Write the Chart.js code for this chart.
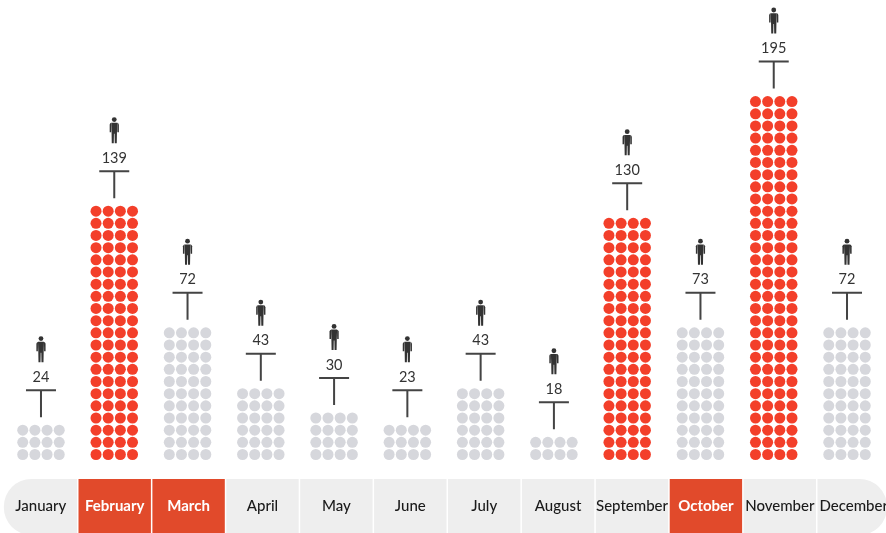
<!DOCTYPE html>
<html><head><meta charset="utf-8">
<style>html,body{margin:0;padding:0;background:#fff;overflow:hidden}canvas{display:block}</style>
<script src="https://cdn.jsdelivr.net/npm/chart.js@4/dist/chart.umd.min.js"></script>
</head><body><canvas id="c" width="886" height="533"></canvas>
<script>
const months = ['January','February','March','April','May','June','July','August','September','October','November','December'];
const totals = [24,139,72,43,30,23,43,18,130,73,195,72];
const dotRows = [3,21,11,6,4,3,6,2,20,11,30,11];
const redColumns = ['February','September','November'];
const redCells = ['February','March','October'];

const COLS = 4, COL_STEP = 0.166;
const points = [], colors = [];
months.forEach((m, i) => {
  for (let r = 0; r < dotRows[i]; r++) for (let c = 0; c < COLS; c++) {
    points.push({x: i + (c - (COLS - 1) / 2) * COL_STEP, y: r});
    colors.push(redColumns.includes(m) ? '#F33F2A' : '#D6D7DC');
  }
});

function person(ctx, cx, top) {
  ctx.save();
  ctx.translate(cx, top);
  ctx.fillStyle = '#333';
  ctx.beginPath(); ctx.arc(0, 2.4, 2.4, 0, Math.PI * 2); ctx.fill();
  ctx.beginPath();
  ctx.moveTo(-3, 5.6); ctx.lineTo(3, 5.6); ctx.lineTo(2.7, 15);
  ctx.lineTo(2.5, 26); ctx.lineTo(0.5, 26); ctx.lineTo(0.3, 16.5);
  ctx.lineTo(-0.3, 16.5); ctx.lineTo(-0.5, 26); ctx.lineTo(-2.5, 26);
  ctx.lineTo(-2.7, 15);
  ctx.closePath(); ctx.fill();
  [-1, 1].forEach(s => {
    ctx.beginPath();
    ctx.moveTo(s * 3, 5.7); ctx.lineTo(s * 4, 6.2); ctx.lineTo(s * 4.6, 7.5);
    ctx.lineTo(s * 4.6, 15); ctx.lineTo(s * 3.1, 15);
    ctx.closePath(); ctx.fill();
  });
  ctx.restore();
}

const strip = {
  id: 'strip',
  beforeDraw(chart) {
    const {ctx, scales: {xCells}} = chart;
    const top = 479, h = 56, rad = 27.5;
    ctx.save();
    months.forEach((m, i) => {
      const l = xCells.getPixelForValue(i - 0.5) + (i ? 0.75 : 0);
      const r = i < 11 ? xCells.getPixelForValue(i + 0.5) - 0.75 : 887;
      ctx.fillStyle = redCells.includes(m) ? '#E14A2B' : '#EEEEEE';
      ctx.beginPath();
      if (i === 0) ctx.roundRect(l, top, r - l, h, [rad, 0, 0, rad]);
      else if (i === 11) ctx.roundRect(l, top, r - l, h, [0, rad, rad, 0]);
      else ctx.rect(l, top, r - l, h);
      ctx.fill();
    });
    ctx.restore();
  }
};

const markers = {
  id: 'markers',
  afterDatasetsDraw(chart) {
    const {ctx, scales: {x, y}} = chart;
    ctx.save();
    months.forEach((m, i) => {
      const cx = x.getPixelForValue(i);
      const t = y.getPixelForValue(dotRows[i] - 1);
      ctx.strokeStyle = '#444';
      ctx.lineWidth = 2;
      ctx.beginPath();
      ctx.moveTo(cx - 15, t - 40); ctx.lineTo(cx + 15, t - 40);
      ctx.moveTo(cx, t - 40); ctx.lineTo(cx, t - 13);
      ctx.stroke();
      ctx.fillStyle = '#333';
      ctx.font = '14.5px Lato';
      ctx.textAlign = 'center';
      ctx.textBaseline = 'middle';
      ctx.fillText(String(totals[i]), cx, t - 53);
      person(ctx, cx, t - 94);
    });
    ctx.restore();
  }
};

const setTicks = s => { s.ticks = months.map((_, i) => ({value: i})); };

new Chart(document.getElementById('c'), {
  type: 'scatter',
  data: {datasets: [{data: points, backgroundColor: colors, borderWidth: 0, pointRadius: 5.5, pointHoverRadius: 5.5, xAxisID: 'x', yAxisID: 'y', clip: false}]},
  options: {
    responsive: false, animation: false,
    layout: {autoPadding: false, padding: {left: 4.35, right: 2.35, top: 0, bottom: 0}},
    plugins: {legend: {display: false}, tooltip: {enabled: false}, title: {display: false}},
    scales: {
      x: {type: 'linear', display: false, min: -0.5, max: 11.5},
      xCells: {
        type: 'linear', position: 'bottom', min: -0.4932, max: 11.405,
        afterBuildTicks: setTicks,
        afterFit(s) { s.height = 55; s.paddingLeft = 0; s.paddingRight = 0; },
        border: {display: false}, grid: {display: false, drawTicks: false},
        ticks: {
          autoSkip: false, maxRotation: 0, padding: 19,
          callback: v => months[v],
          color: c => redCells.includes(months[c.index]) ? '#FFFFFF' : '#1A1A1A',
          font: c => ({family: 'Lato', size: 15, weight: redCells.includes(months[c.index]) ? '700' : '500'})
        }
      },
      y: {type: 'linear', display: false, min: -1.93, max: 37.35}
    }
  },
  plugins: [strip, markers]
});
</script></body></html>
